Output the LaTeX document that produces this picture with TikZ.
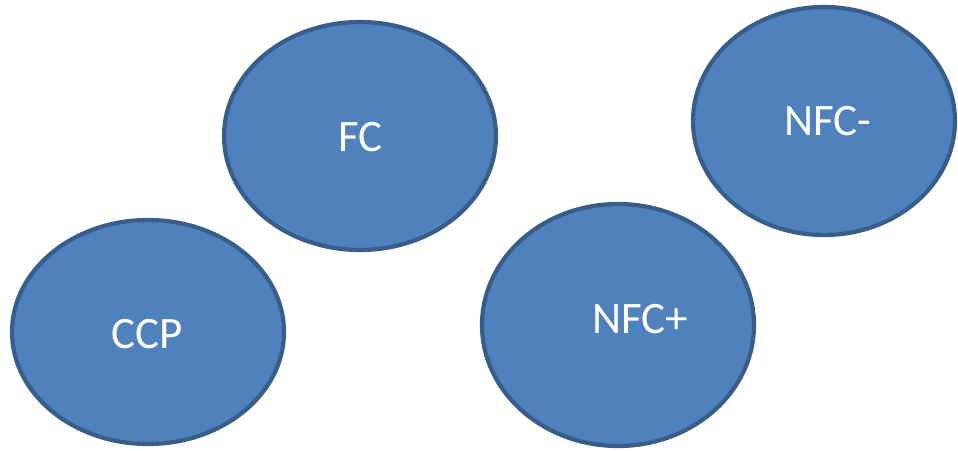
\documentclass[tikz,border=0pt]{standalone}
\usepackage{fontspec}
\setmainfont{Carlito}
\usetikzlibrary{shapes.geometric}
\definecolor{bubblefill}{HTML}{4F81BD}
\definecolor{bubbleline}{HTML}{385D8A}
\tikzset{
  bubble/.style={ellipse, draw=bubbleline, fill=bubblefill, line width=4.2pt, inner sep=0pt},
  bubbletext/.style={anchor=base, text=white, inner sep=0pt, font=\fontsize{45}{54}\selectfont}
}
\begin{document}
\begin{tikzpicture}[x=1pt, y=1pt]
  \useasboundingbox (0,0) rectangle (958,450);
  % ellipses (centres in pixel-like units, y measured from the bottom)
  \node[bubble, minimum width=272, minimum height=228] (fc)   at (360,314) {};
  \node[bubble, minimum width=272, minimum height=224] (ccp)  at (148,118) {};
  \node[bubble, minimum width=272, minimum height=242] (nfcp) at (618,125) {};
  \node[bubble, minimum width=262, minimum height=228] (nfcm) at (824,329) {};
  % labels
  \node[bubbletext] (fclabel)   at (360.5,298) {FC};
  \node[bubbletext] (ccplabel)  at (147.5,102) {CCP};
  \node[bubbletext] (nfcplabel) at (640,117) {NFC+};
  \node[bubbletext] (nfcmlabel) at (828,314) {NFC-};
\end{tikzpicture}
\end{document}
